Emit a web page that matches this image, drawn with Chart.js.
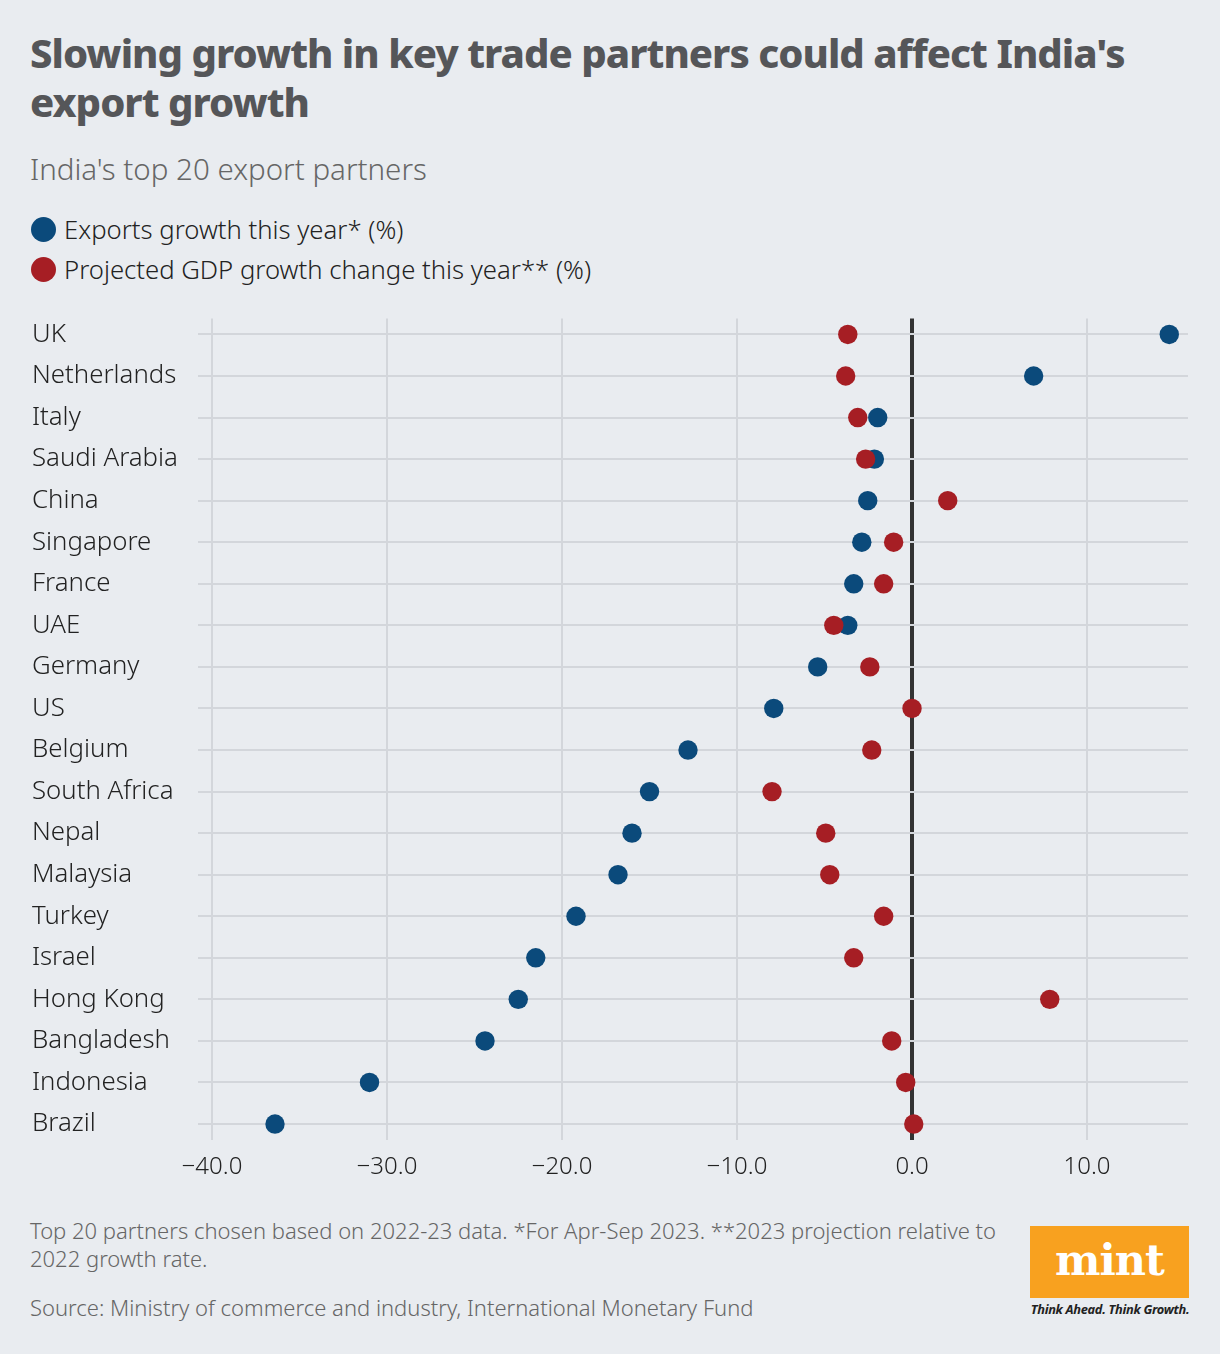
<!DOCTYPE html>
<html>
<head>
<meta charset="utf-8">
<script src="https://cdn.jsdelivr.net/npm/chart.js@4.4.1/dist/chart.umd.min.js"></script>
<style>
  html, body { margin: 0; padding: 0; }
  body {
    width: 1220px; height: 1354px; position: relative; overflow: hidden;
    background: #e9ecf0; font-family: "Noto Sans", sans-serif;
  }
  .title {
    position: absolute; left: 30px; top: 28px; margin: 0;
    font-size: 40px; line-height: 49px; font-weight: 800; color: #555659;
    letter-spacing: -0.97px;
  }
  .subtitle {
    position: absolute; left: 30px; top: 148px; margin: 0;
    font-size: 29.5px; font-weight: 300; color: #666;
  }
  .legend { position: absolute; left: 31px; top: 209px; font-size: 25.7px; font-weight: 300; color: #222; }
  .legend div { height: 40px; display: flex; align-items: center; }
  .dot { display: inline-block; width: 25px; height: 25px; border-radius: 50%; margin-right: 8px; }
  .chart-box { position: absolute; left: 32px; top: 300px; width: 1168px; height: 900px; }
  .note { position: absolute; left: 30px; top: 1216px; width: 1000px; font-size: 22px; line-height: 28px; font-weight: 300; color: #666; }
  .source { position: absolute; left: 30px; top: 1292px; font-size: 22px; font-weight: 300; color: #666; }
  .logo {
    position: absolute; left: 1030px; top: 1226px; width: 159px; height: 72px;
    background: #f8a11f; color: #fff; text-align: center;
    font-family: "DejaVu Serif", serif; font-weight: 700; font-size: 43px; line-height: 68px;
    letter-spacing: -1px;
  }
  .tagline {
    position: absolute; left: 1030px; top: 1300px; width: 160px; text-align: center;
    font-size: 12.8px; font-weight: 700; font-style: italic; color: #222; letter-spacing: -0.3px;
  }
</style>
</head>
<body>
<h1 class="title">Slowing growth in key trade partners could affect India's<br>export growth</h1>
<p class="subtitle">India's top 20 export partners</p>
<div class="legend">
  <div><span class="dot" style="background:#0b4a7b"></span>Exports growth this year* (%)</div>
  <div><span class="dot" style="background:#a61e24"></span>Projected GDP growth change this year** (%)</div>
</div>
<div class="chart-box"><canvas id="chart"></canvas></div>
<div class="note">Top 20 partners chosen based on 2022-23 data. *For Apr-Sep 2023. **2023 projection relative to<br>2022 growth rate.</div>
<div class="source">Source: Ministry of commerce and industry, International Monetary Fund</div>
<div class="logo">mint</div>
<div class="tagline">Think Ahead. Think Growth.</div>

<script>
// ── Data ──────────────────────────────────────────────────────────────────
const countries = ['UK', 'Netherlands', 'Italy', 'Saudi Arabia', 'China', 'Singapore', 'France', 'UAE',
                   'Germany', 'US', 'Belgium', 'South Africa', 'Nepal', 'Malaysia', 'Turkey', 'Israel',
                   'Hong Kong', 'Bangladesh', 'Indonesia', 'Brazil'];
const exportsGrowth = [14.7, 6.95, -1.96, -2.15, -2.53, -2.87, -3.33, -3.67, -5.39, -7.9,
                       -12.8, -15.0, -16.0, -16.8, -19.2, -21.5, -22.5, -24.4, -31.0, -36.4];
const gdpChange     = [-3.67, -3.79, -3.1, -2.65, 2.04, -1.05, -1.62, -4.47, -2.41, 0.0,
                       -2.3, -8.0, -4.93, -4.7, -1.62, -3.33, 7.87, -1.16, -0.36, 0.1];
const xTickValues = [-40, -30, -20, -10, 0, 10];

const BLUE = '#0b4a7b';
const RED  = '#a61e24';
const GRID = '#d3d6db';

const toPoints = arr => arr.map((v, i) => ({ x: v, y: i }));

new Chart(document.getElementById('chart'), {
    type: 'scatter',
    data: {
        datasets: [
            { label: 'Exports growth this year* (%)', data: toPoints(exportsGrowth),
              backgroundColor: BLUE, borderWidth: 0, pointRadius: 9.7, pointHoverRadius: 9.7, order: 2 },
            { label: 'Projected GDP growth change this year** (%)', data: toPoints(gdpChange),
              backgroundColor: RED, borderWidth: 0, pointRadius: 9.7, pointHoverRadius: 9.7, order: 1 }
        ]
    },
    options: {
        responsive: true,
        maintainAspectRatio: false,
        animation: false,
        events: [],
        layout: { padding: { top: 16, right: 12, bottom: 0, left: 0 } },
        scales: {
            x: {
                type: 'linear',
                min: -40.8,
                max: 15.77,
                afterBuildTicks: s => { s.ticks = xTickValues.map(v => ({ value: v })); },
                afterFit: s => { s.height = 60; },
                border: { display: false },
                grid: {
                    z: -1,
                    drawTicks: false,
                    color: c => c.tick && c.tick.value === 0 ? '#333333' : GRID,
                    lineWidth: c => c.tick && c.tick.value === 0 ? 4 : 2
                },
                ticks: {
                    padding: 13,
                    color: '#222',
                    font: { family: 'Noto Sans', size: 24, weight: 300 },
                    callback: v => (v < 0 ? '\u2212' : '') + Math.abs(v).toFixed(1)
                }
            },
            y: {
                type: 'linear',
                reverse: true,
                min: -0.384,
                max: 19.384,
                afterBuildTicks: s => { s.ticks = countries.map((_, i) => ({ value: i })); },
                afterFit: s => { s.width = 166; },
                border: { display: false },
                grid: { drawTicks: false, color: GRID, lineWidth: 2 },
                ticks: {
                    autoSkip: false,
                    crossAlign: 'far',
                    color: '#222',
                    font: { family: 'Noto Sans', size: 25.8, weight: 300 },
                    callback: v => countries[v]
                }
            }
        },
        plugins: {
            legend:  { display: false },
            tooltip: { enabled: false }
        }
    }
});
</script>
</body>
</html>
